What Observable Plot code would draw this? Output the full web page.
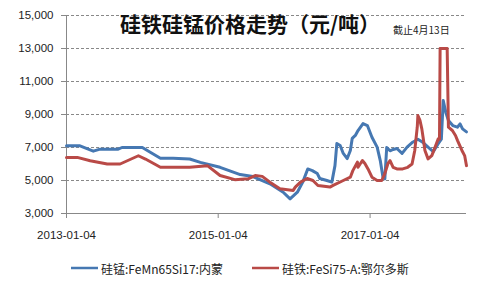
<!DOCTYPE html>
<html>
<head>
<meta charset="utf-8">
<script src="https://cdn.jsdelivr.net/npm/d3@7"></script>
<script src="https://cdn.jsdelivr.net/npm/@observablehq/plot@0.6"></script>
<style>
  html, body { margin: 0; padding: 0; background: #fff; }
  #chart svg { display: block; }
</style>
</head>
<body>
<div id="chart"></div>
<script>
// ---- Data ----
const titleText = "硅铁硅锰价格走势（元/吨）";
const noteText = "截止4月13日";
const seriesNames = ["硅锰:FeMn65Si17:内蒙", "硅铁:FeSi75-A:鄂尔多斯"];
const seriesColors = ["#4678b2", "#b94a47"];

const yTicks = [3000, 5000, 7000, 9000, 11000, 13000, 15000];
const xTickLabels = ["2013-01-04", "2015-01-04", "2017-01-04"];
const xStart = "2013-01-04";
const xEnd = "2018-04-13";

const mnDates = ["2013-01-04","2013-03-10","2013-05-13","2013-06-15","2013-09-10","2013-09-28","2014-01-04","2014-02-13","2014-04-01","2014-06-01","2014-08-20","2014-10-10","2015-01-13","2015-04-20","2015-06-20","2015-09-10","2015-11-13","2015-12-16","2016-01-20","2016-02-15","2016-03-10","2016-04-01","2016-04-25","2016-05-07","2016-06-10","2016-07-04","2016-07-19","2016-07-28","2016-08-13","2016-08-28","2016-09-16","2016-10-01","2016-10-10","2016-10-25","2016-11-07","2016-12-01","2016-12-22","2017-01-13","2017-02-07","2017-02-22","2017-03-07","2017-03-16","2017-03-25","2017-04-10","2017-04-25","2017-05-13","2017-06-07","2017-07-01","2017-07-28","2017-08-22","2017-09-16","2017-10-10","2017-11-04","2017-11-28","2017-12-13","2017-12-22","2018-01-04","2018-01-16","2018-02-06","2018-02-28","2018-03-13","2018-03-25","2018-04-13"];
const mnValues = [7100,7100,6780,6900,6900,7000,7000,6700,6350,6350,6300,6100,5800,5360,5240,4800,4290,3890,4290,4900,5700,5600,5420,5120,5000,4900,5900,7240,7120,6640,6330,6820,7550,7730,8030,8450,8330,7620,7020,6210,5200,5100,7000,6800,6880,6940,6640,7020,7320,7500,7300,7020,6750,7230,7500,9850,9100,8640,8330,8230,8430,8130,7950];

const siDates = ["2013-01-04","2013-02-25","2013-04-28","2013-07-19","2013-09-19","2013-12-16","2014-01-19","2014-04-01","2014-08-20","2014-11-13","2015-01-13","2015-03-25","2015-05-28","2015-07-01","2015-08-04","2015-09-10","2015-10-28","2015-12-31","2016-01-10","2016-02-04","2016-03-07","2016-04-04","2016-04-28","2016-06-25","2016-07-10","2016-08-28","2016-10-01","2016-10-13","2016-11-04","2016-11-07","2016-11-28","2016-12-10","2016-12-25","2017-01-13","2017-02-07","2017-03-01","2017-03-16","2017-03-31","2017-04-10","2017-04-25","2017-05-13","2017-06-10","2017-07-04","2017-07-25","2017-08-07","2017-08-19","2017-08-22","2017-09-01","2017-09-10","2017-09-16","2017-09-25","2017-10-10","2017-10-28","2017-11-13","2017-11-28","2017-12-04","2017-12-07","2018-01-10","2018-01-16","2018-02-04","2018-02-19","2018-03-01","2018-03-22","2018-04-04","2018-04-13"];
const siValues = [6400,6400,6200,6000,6000,6500,6300,5800,5800,5900,5300,5050,5100,5300,5250,4900,4500,4400,4600,4900,5120,5000,4700,4600,4700,5000,5200,5600,6110,5800,6210,6030,5700,5200,5000,5000,5420,6030,6200,5800,5700,5700,5800,6000,6820,8230,8940,8640,8130,7620,6820,6310,6510,7020,7530,7500,13000,13000,8230,8030,7730,7420,6820,6510,5900];

// ---- Build table ----
const parse = d3.utcParse("%Y-%m-%d");
const rows = [
  ...mnDates.map((d, i) => ({date: parse(d), value: mnValues[i], series: seriesNames[0]})),
  ...siDates.map((d, i) => ({date: parse(d), value: siValues[i], series: seriesNames[1]}))
];
const xTicks = xTickLabels.map(parse);
const x0 = parse(xStart), x1 = parse(xEnd);

const W = 482, H = 290;
const font = "'Liberation Sans', 'Noto Sans CJK SC', sans-serif";

const chart = Plot.plot({
  width: W,
  height: H,
  marginLeft: 66,
  marginRight: 16,
  marginTop: 15,
  marginBottom: 77,
  style: {fontFamily: font, fontSize: "11px", color: "#222", background: "#fff"},
  x: {type: "utc", domain: [x0, x1]},
  y: {domain: [3000, 15000]},
  color: {domain: seriesNames, range: seriesColors},
  marks: [
    Plot.gridY(yTicks.filter(t => t > 3000), {stroke: "#888", strokeOpacity: 1, strokeDasharray: "3,2", strokeWidth: 1}),
    Plot.ruleY([3000], {stroke: "#888"}),
    Plot.ruleX([x0], {stroke: "#888"}),
    Plot.axisY({ticks: yTicks, tickFormat: d3.format(","), tickSize: 5, tickPadding: 8, stroke: "#888", fill: "#222", fontSize: 11.5, label: null}),
    Plot.axisX({ticks: xTicks, tickFormat: d3.utcFormat("%Y-%m-%d"), tickSize: 5, tickPadding: 12, stroke: "#888", fill: "#222", fontSize: 11.5, label: null}),
    Plot.line(rows, {x: "date", y: "value", z: "series", stroke: "series", strokeWidth: 3, curve: "linear"})
  ]
});

const svg = d3.select(chart);
// Title and note
svg.append("text")
  .attr("x", 250).attr("y", 22.5)
  .attr("text-anchor", "middle").attr("dominant-baseline", "central")
  .style("font-family", "'Noto Sans CJK SC', sans-serif")
  .style("font-size", "21px").style("font-weight", "bold").style("fill", "#111")
  .text(titleText);
svg.append("text")
  .attr("x", 393).attr("y", 29)
  .attr("text-anchor", "start").attr("dominant-baseline", "central")
  .style("font-family", "'Noto Sans CJK SC', sans-serif")
  .style("font-size", "10px").style("fill", "#222")
  .text(noteText);

// Legend
const legendY = 268;
const legendX = [71, 252];
seriesNames.forEach((name, i) => {
  svg.append("line")
    .attr("x1", legendX[i]).attr("x2", legendX[i] + 27)
    .attr("y1", legendY).attr("y2", legendY)
    .attr("stroke", seriesColors[i]).attr("stroke-width", 2.5);
  svg.append("text")
    .attr("x", legendX[i] + 30).attr("y", legendY)
    .attr("text-anchor", "start").attr("dominant-baseline", "central")
    .style("font-family", "'Noto Sans CJK SC', sans-serif")
    .style("font-size", "12px").style("fill", "#222")
    .text(name);
});

document.getElementById("chart").appendChild(chart);
</script>
</body>
</html>
